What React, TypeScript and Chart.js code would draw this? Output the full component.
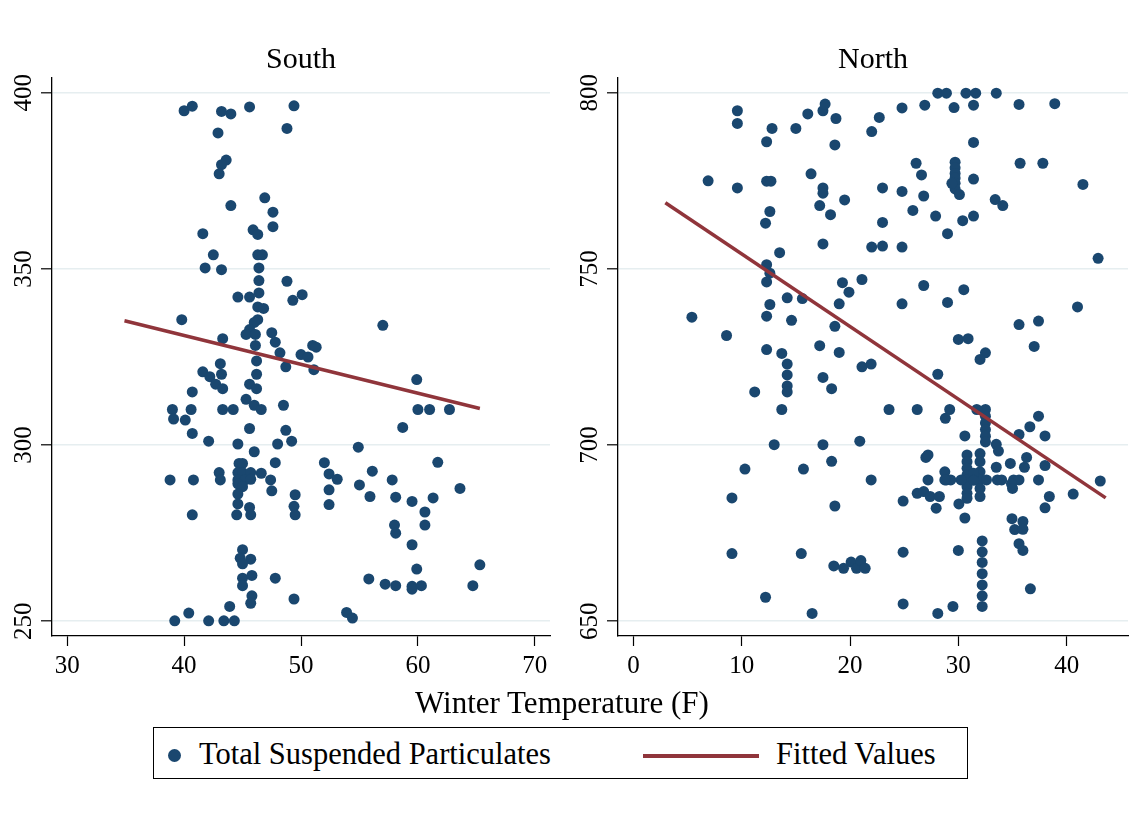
import React, { useEffect, useRef } from "react";
import { Chart, registerables } from "chart.js";

Chart.register(...registerables);

// ---------------- Data ----------------
const southTemp = [
  40.0, 40.7, 43.2, 44.0, 45.6, 49.4, 42.9, 48.8, 43.6, 43.2,
  43.0, 46.9, 44.0, 47.6, 47.6, 41.6, 45.9, 46.3, 42.5, 46.3,
  46.7, 41.8, 43.2, 46.4, 46.4, 48.8, 44.6, 45.6, 46.4, 49.3,
  50.1, 46.3, 46.8, 39.8, 46.3, 46.0, 45.6, 45.3, 46.1, 47.5,
  43.3, 47.8, 51.0, 51.3, 46.1, 48.2, 50.0, 50.6, 46.2, 43.1,
  41.6, 43.2, 46.2, 48.7, 51.1, 42.2, 42.7, 43.3, 45.6, 46.2,
  40.7, 45.3, 46.0, 46.6, 48.5, 39.0, 39.1, 40.6, 43.3, 44.2,
  40.1, 40.7, 45.6, 48.7, 49.2, 42.1, 44.6, 48.0, 46.0, 54.9,
  44.7, 45.0, 44.6, 45.0, 45.7, 44.6, 45.2, 45.7, 44.6, 45.0,
  47.8, 46.6, 47.4, 47.5, 43.0, 43.1, 38.8, 40.8, 44.6, 44.6,
  45.6, 44.5, 45.7, 40.7, 49.5, 49.4, 49.5, 52.0, 52.4, 53.1,
  52.4, 52.4, 55.0, 55.9, 56.1, 45.0, 44.8, 45.7, 45.0, 45.0,
  45.8, 45.0, 47.8, 45.8, 45.7, 43.9, 49.4, 55.8, 53.9, 54.4,
  39.2, 40.4, 42.1, 43.4, 44.3, 59.9, 60.0, 61.0, 62.7, 58.7,
  61.7, 57.8, 58.1, 59.5, 61.3, 63.6, 60.6, 58.0, 58.1, 60.6,
  59.5, 59.9, 65.3, 57.2, 58.1, 59.5, 59.5, 60.3, 64.7, 57.0,
];
const southTSP = [
  394.9, 396.2, 394.7, 394.0, 396.0, 396.3, 388.6, 389.9, 380.9, 379.6,
  377.0, 370.2, 368.0, 366.1, 362.0, 360.0, 361.1, 359.8, 354.0, 354.0,
  354.0, 350.3, 349.8, 350.3, 346.7, 346.5, 342.0, 342.0, 343.2, 341.1,
  342.7, 339.2, 338.8, 335.6, 335.6, 334.8, 332.8, 331.4, 331.4, 331.9,
  330.2, 329.2, 328.3, 327.8, 328.3, 326.2, 325.7, 325.0, 323.9, 323.1,
  320.8, 320.1, 320.1, 322.2, 321.4, 319.4, 317.3, 316.0, 317.3, 316.0,
  315.1, 313.0, 311.3, 310.1, 311.3, 310.1, 307.4, 310.1, 310.1, 310.1,
  307.1, 303.3, 304.7, 304.2, 301.1, 301.1, 300.3, 300.3, 298.1, 299.4,
  294.8, 294.8, 292.2, 292.2, 292.2, 290.1, 290.1, 290.3, 289.0, 288.2,
  295.0, 292.0, 290.1, 287.0, 292.2, 290.1, 290.1, 290.1, 286.1, 283.3,
  282.3, 280.2, 280.2, 280.2, 285.9, 282.6, 280.2, 295.0, 291.8, 290.3,
  287.3, 283.1, 288.7, 285.4, 292.6, 270.3, 267.9, 267.6, 266.3, 262.2,
  263.0, 260.1, 262.2, 257.2, 255.1, 254.2, 256.3, 262.0, 252.5, 250.9,
  250.1, 252.3, 250.1, 250.1, 250.1, 318.6, 310.1, 310.1, 310.1, 305.0,
  295.1, 290.1, 285.2, 284.0, 285.0, 287.7, 281.0, 277.3, 275.0, 277.3,
  271.7, 264.8, 266.0, 260.5, 260.1, 259.9, 259.1, 260.1, 260.1, 334.0,
];
const southFitTemp = [34.9, 65.3];
const southFitTSP = [335.3, 310.4];

const northTemp = [
  9.6, 9.6, 12.8, 12.3, 15.0, 16.1, 17.5, 17.7, 18.7, 18.6,
  6.9, 9.6, 12.3, 12.7, 16.4, 17.5, 17.5, 19.5, 17.2, 18.2,
  12.6, 12.2, 17.5, 13.5, 12.3, 12.6, 12.3, 19.3, 19.9, 21.1,
  14.2, 15.6, 19.0, 12.6, 5.4, 12.3, 14.6, 18.6, 8.6, 17.2,
  12.3, 13.7, 19.0, 14.2, 14.2, 17.5, 21.1, 14.2, 14.2, 11.2,
  18.3, 13.7, 13.0, 17.5, 20.9, 10.3, 15.7, 18.3, 9.1, 18.6,
  9.1, 15.5, 18.5, 19.4, 20.1, 20.6, 21.0, 21.4, 12.2, 16.5,
  22.7, 22.0, 24.8, 26.9, 28.1, 28.9, 30.7, 31.6, 33.5, 29.6,
  31.4, 35.6, 38.9, 31.4, 26.1, 26.6, 29.7, 29.7, 29.7, 29.7,
  29.7, 29.7, 29.4, 30.1, 31.4, 35.7, 37.8, 41.5, 23.0, 24.8,
  26.8, 25.8, 27.9, 30.4, 31.4, 33.4, 34.1, 29.0, 23.0, 22.0,
  23.0, 24.8, 24.8, 26.8, 29.0, 30.5, 41.0, 35.6, 37.4, 30.0,
  30.9, 37.0, 32.5, 32.0, 21.95, 28.1, 23.6, 26.2, 29.2, 28.8,
  32.5, 32.5, 32.5, 32.5, 32.5, 32.5, 31.7, 37.4, 36.6, 35.6,
  38.0, 30.6, 33.5, 33.7, 27.0, 27.2, 30.8, 30.8, 30.8, 30.8,
  30.8, 30.8, 30.8, 30.8, 32.0, 32.0, 32.0, 32.0, 32.0, 32.0,
  31.4, 31.4, 32.6, 30.25, 34.8, 33.5, 36.3, 36.1, 38.0, 33.6,
  34.0, 35.1, 35.6, 34.9, 35.0, 37.4, 38.4, 38.0, 40.6, 28.75,
  28.9, 29.3, 28.75, 27.2, 26.2, 26.8, 27.4, 28.25, 27.95, 24.9,
  21.95, 30.05, 30.6, 34.95, 35.96, 35.2, 35.96, 35.6, 35.96, 32.2,
  32.2, 32.2, 32.2, 32.2, 32.2, 32.2, 24.9, 30.0, 36.65, 24.9,
  28.1, 29.5, 42.9, 43.1,
];
const northTSP = [
  794.9, 791.3, 789.9, 786.1, 789.9, 794.0, 794.9, 796.8, 792.7, 785.2,
  775.0, 773.0, 774.9, 774.9, 777.0, 773.0, 771.5, 769.6, 768.0, 765.4,
  766.3, 763.0, 757.1, 754.6, 751.2, 748.8, 746.3, 746.1, 743.4, 747.0,
  741.8, 741.6, 740.1, 739.9, 736.3, 736.6, 735.4, 733.7, 731.1, 728.2,
  727.1, 726.0, 726.3, 723.0, 719.9, 719.2, 722.2, 716.8, 715.1, 715.1,
  716.0, 710.1, 700.1, 700.1, 701.1, 693.2, 693.2, 695.4, 685.0, 682.7,
  669.2, 669.2, 665.7, 665.0, 666.8, 665.0, 667.2, 665.0, 656.8, 652.2,
  793.0, 789.0, 795.7, 796.5, 799.9, 799.9, 799.9, 799.9, 799.9, 795.8,
  796.5, 796.7, 796.9, 785.9, 780.0, 776.7, 780.3, 778.7, 777.1, 775.8,
  774.3, 772.7, 774.3, 771.1, 775.5, 780.0, 780.0, 774.0, 773.0, 772.0,
  770.7, 766.6, 765.0, 763.7, 765.0, 769.7, 768.0, 760.0, 763.2, 756.2,
  756.5, 756.2, 740.1, 745.3, 740.5, 744.1, 739.2, 734.2, 735.2, 730.0,
  730.2, 728.0, 726.2, 724.3, 723.0, 720.1, 710.1, 710.1, 710.1, 707.6,
  710.1, 708.2, 706.3, 704.4, 702.5, 700.9, 710.1, 708.2, 705.2, 703.0,
  702.6, 702.6, 700.2, 698.3, 696.5, 697.2, 697.2, 695.3, 693.4, 691.5,
  690.1, 688.2, 686.3, 684.9, 697.6, 695.3, 692.4, 690.1, 687.7, 685.4,
  692.0, 690.0, 690.1, 690.1, 694.8, 693.7, 696.5, 693.7, 694.2, 690.1,
  690.1, 690.1, 690.1, 689.0, 687.7, 690.1, 685.4, 682.2, 686.1, 692.4,
  690.1, 690.1, 690.1, 690.1, 686.3, 686.8, 685.4, 685.4, 682.1, 684.1,
  690.1, 683.3, 679.3, 679.1, 678.3, 676.0, 676.1, 672.0, 670.1, 672.8,
  669.7, 666.7, 663.5, 660.3, 657.2, 654.2, 669.6, 670.1, 659.2, 654.9,
  652.2, 654.2, 753.0, 689.8,
];
const northFitTemp = [2.95, 43.6];
const northFitTSP = [768.8, 685.0];

const southXTicks = [30, 40, 50, 60, 70];
const southYTicks = [250, 300, 350, 400];
const northXTicks = [0, 10, 20, 30, 40];
const northYTicks = [650, 700, 750, 800];

// ---------------- Style ----------------
const SERIF = '"Liberation Serif", "Times New Roman", serif';
const NAVY = "#1a476f";
const MAROON = "#90353b";
const GRID = "#e6eef0";

const panelDecor = {
  id: "panelDecor",
  afterDraw(chart: any, _args: any, opts: any) {
    const ctx = chart.ctx;
    const ys = chart.scales.y;
    const area = chart.chartArea;
    ctx.save();
    ctx.fillStyle = "#000";
    ctx.font = `25px ${SERIF}`;
    ctx.textAlign = "center";
    ctx.textBaseline = "middle";
    for (const v of opts.yTicks) {
      const py = ys.getPixelForValue(v);
      ctx.save();
      ctx.translate(area.left - 28, py);
      ctx.rotate(-Math.PI / 2);
      ctx.fillText(String(v), 0, 0);
      ctx.restore();
    }
    ctx.font = `30px ${SERIF}`;
    ctx.textBaseline = "alphabetic";
    ctx.fillText(opts.title, (area.left + area.right) / 2, 68);
    ctx.restore();
  },
};

type PanelCfg = {
  title: string;
  xs: number[];
  ys: number[];
  fitX: number[];
  fitY: number[];
  xMin: number;
  xMax: number;
  yMin: number;
  yMax: number;
  xTicks: number[];
  yTicks: number[];
  padRight: number;
};

function buildConfig(p: PanelCfg): any {
  return {
    type: "scatter",
    data: {
      datasets: [
        {
          label: "Fitted Values",
          data: p.fitX.map((x, i) => ({ x, y: p.fitY[i] })),
          showLine: true,
          borderColor: MAROON,
          borderWidth: 3.5,
          pointRadius: 0,
          order: 0,
        },
        {
          label: "Total Suspended Particulates",
          data: p.xs.map((x, i) => ({ x, y: p.ys[i] })),
          pointRadius: 5.5,
          pointBackgroundColor: NAVY,
          pointBorderWidth: 0,
          borderColor: NAVY,
          order: 1,
        },
      ],
    },
    options: {
      animation: false,
      responsive: false,
      maintainAspectRatio: false,
      layout: { padding: { top: 78, right: p.padRight, left: 0, bottom: 0 } },
      plugins: {
        legend: { display: false },
        tooltip: { enabled: false },
        panelDecor: { yTicks: p.yTicks, title: p.title },
      },
      scales: {
        x: {
          type: "linear",
          min: p.xMin,
          max: p.xMax,
          afterBuildTicks: (s: any) => {
            s.ticks = p.xTicks.map((v) => ({ value: v }));
          },
          afterFit: (s: any) => {
            s.height = 54;
          },
          grid: {
            drawOnChartArea: false,
            color: "rgba(0,0,0,0)",
            tickColor: "#000",
            tickLength: 10,
            tickWidth: 1.2,
          },
          border: { display: true, color: "#000", width: 1.3 },
          ticks: {
            font: { family: SERIF, size: 25 },
            color: "#000",
            padding: 5,
            maxRotation: 0,
            autoSkip: false,
            callback: (v: any) => String(v),
          },
        },
        y: {
          type: "linear",
          min: p.yMin,
          max: p.yMax,
          afterBuildTicks: (s: any) => {
            s.ticks = p.yTicks.map((v) => ({ value: v }));
          },
          afterFit: (s: any) => {
            s.width = 52;
          },
          grid: {
            color: GRID,
            lineWidth: 1.6,
            tickColor: "#000",
            tickLength: 11,
            tickWidth: 1.2,
          },
          border: { display: true, color: "#000", width: 1.3 },
          ticks: { display: false },
        },
      },
    },
    plugins: [panelDecor],
  };
}

function Panel({ cfg, left, width }: { cfg: PanelCfg; left: number; width: number }) {
  const ref = useRef<HTMLCanvasElement | null>(null);
  useEffect(() => {
    if (!ref.current) return;
    const chart = new Chart(ref.current, buildConfig(cfg));
    return () => chart.destroy();
  }, []);
  return (
    <canvas
      ref={ref}
      width={width}
      height={690}
      style={{ position: "absolute", left, top: 0, width, height: 690 }}
    />
  );
}

const southCfg: PanelCfg = {
  title: "South",
  xs: southTemp,
  ys: southTSP,
  fitX: southFitTemp,
  fitY: southFitTSP,
  xMin: 28.7,
  xMax: 71.3,
  yMin: 245.8,
  yMax: 404.2,
  xTicks: southXTicks,
  yTicks: southYTicks,
  padRight: 30,
};

const northCfg: PanelCfg = {
  title: "North",
  xs: northTemp,
  ys: northTSP,
  fitX: northFitTemp,
  fitY: northFitTSP,
  xMin: -1.42,
  xMax: 45.66,
  yMin: 645.8,
  yMax: 804.2,
  xTicks: northXTicks,
  yTicks: northYTicks,
  padRight: 16,
};

export default function App() {
  const textStyle: React.CSSProperties = {
    position: "absolute",
    fontFamily: SERIF,
    color: "#000",
    whiteSpace: "nowrap",
  };
  return (
    <div
      style={{
        position: "absolute",
        left: 0,
        top: 0,
        width: 1144,
        height: 813,
        background: "#fff",
        overflow: "hidden",
      }}
    >
      <Panel cfg={southCfg} left={0} width={580} />
      <Panel cfg={northCfg} left={566} width={578} />
      <div
        style={{
          ...textStyle,
          left: 262,
          width: 600,
          top: 687,
          fontSize: 31,
          lineHeight: "31px",
          textAlign: "center",
        }}
      >
        Winter Temperature (F)
      </div>
      <div
        style={{
          position: "absolute",
          left: 153,
          top: 727,
          width: 815,
          height: 52,
          boxSizing: "border-box",
          border: "1.5px solid #000",
          background: "#fff",
        }}
      >
        <div
          style={{
            position: "absolute",
            left: 173 - 153 - 6.5,
            top: 27 - 6.5,
            width: 13,
            height: 13,
            borderRadius: "50%",
            background: NAVY,
          }}
        />
        <div style={{ ...textStyle, left: 198 - 153, top: 11, fontSize: 30.5, lineHeight: "30.5px" }}>
          Total Suspended Particulates
        </div>
        <div
          style={{
            position: "absolute",
            left: 642 - 153,
            top: 26,
            width: 116,
            height: 3.6,
            background: MAROON,
          }}
        />
        <div style={{ ...textStyle, left: 775 - 153, top: 11, fontSize: 30.5, lineHeight: "30.5px" }}>
          Fitted Values
        </div>
      </div>
    </div>
  );
}
